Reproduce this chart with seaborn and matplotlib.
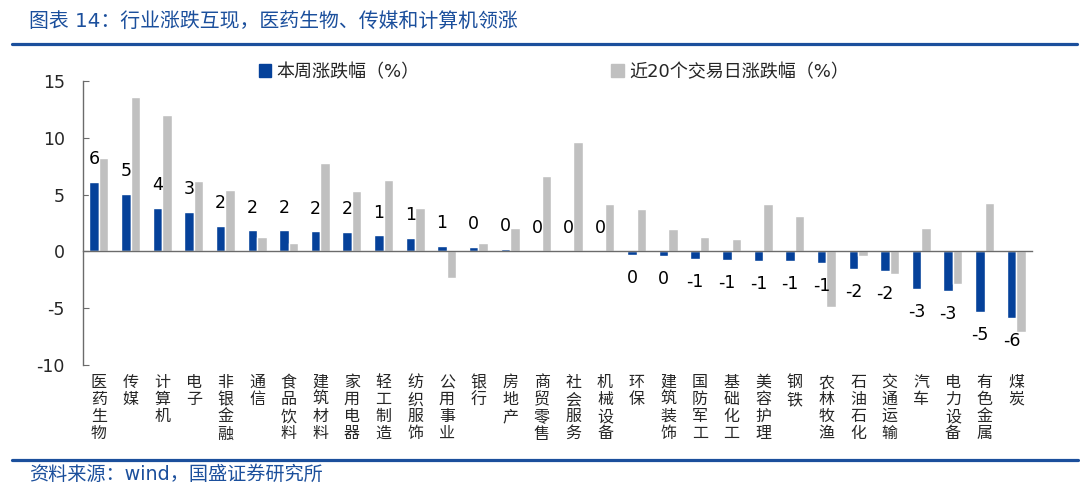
import matplotlib
matplotlib.use("Agg")
import matplotlib.pyplot as plt
import pandas as pd
import seaborn as sns
from matplotlib.lines import Line2D

industries = ["医药生物", "传媒", "计算机", "电子", "非银金融", "通信", "食品饮料", "建筑材料",
              "家用电器", "轻工制造", "纺织服饰", "公用事业", "银行", "房地产", "商贸零售",
              "社会服务", "机械设备", "环保", "建筑装饰", "国防军工", "基础化工", "美容护理",
              "钢铁", "农林牧渔", "石油石化", "交通运输", "汽车", "电力设备", "有色金属", "煤炭"]
weekly = [6.10, 5.08, 3.85, 3.44, 2.23, 1.85, 1.85, 1.76, 1.74, 1.41, 1.21, 0.52, 0.41, 0.24,
          0.05, 0.02, 0.01, -0.33, -0.40, -0.66, -0.80, -0.85, -0.88, -1.06, -1.53, -1.70,
          -3.32, -3.46, -5.31, -5.84]
last20 = [8.20, 13.60, 12.00, 6.17, 5.43, 1.23, 0.70, 7.75, 5.29, 6.28, 3.85, -2.30, 0.77, 2.05,
          6.65, 9.60, 4.20, 3.70, 1.98, 1.27, 1.06, 4.20, 3.10, -4.85, -0.38, -2.00,
          2.09, -2.90, 4.26, -7.07]
series_names = ["本周涨跌幅（%）", "近20个交易日涨跌幅（%）"]

BLUE = "#05419A"
GRAY = "#C0C0C0"
LINE_BLUE = "#1B4F9C"

df = pd.DataFrame({
    "行业": industries * 2,
    "值": weekly + last20,
    "系列": [series_names[0]] * len(industries) + [series_names[1]] * len(industries),
})

sns.set_style("white")
plt.rcParams["font.family"] = ["DejaVu Sans", "Noto Sans CJK SC"]
plt.rcParams["axes.unicode_minus"] = False

fig = plt.figure(figsize=(10.8, 4.93), dpi=100)
ax = fig.add_axes([0.0769, 0.2596, 0.8787, 0.5761])

sns.barplot(data=df, x="行业", y="值", hue="系列", order=industries,
            hue_order=series_names, palette=[BLUE, GRAY], width=0.6, gap=0,
            saturation=1, ax=ax)

# data labels on the weekly bars, rounded to integers
ax.bar_label(ax.containers[0], labels=[str(round(v)) for v in weekly],
             padding=10, fontsize=12.5, color="black")

ax.set_xlim(-0.5, len(industries) - 0.5)
ax.set_ylim(-10, 15)
ax.set_yticks(range(-10, 16, 5))
ax.set_xlabel("")
ax.set_ylabel("")

ax.spines["top"].set_visible(False)
ax.spines["right"].set_visible(False)
ax.spines["bottom"].set_position(("data", 0))
for s in ["left", "bottom"]:
    ax.spines[s].set_color("#6b6b6b")
    ax.spines[s].set_linewidth(1.0)

ax.set_xticks(range(len(industries)))
ax.set_xticklabels(["\n".join(n) for n in industries], fontsize=11.5,
                   va="top", linespacing=1.17)
ax.set_xticks([i - 0.5 for i in range(len(industries) + 1)], minor=True)
ax.tick_params(axis="x", which="major", length=0, pad=89)
ax.tick_params(axis="x", which="minor", direction="in", length=4, color="#6b6b6b", width=1)
ax.tick_params(axis="y", direction="in", length=4, color="#6b6b6b", labelsize=12.5, pad=13, left=True)

# legend across the top
ax.get_legend().remove()
handles = [plt.Rectangle((0, 0), 1, 1, color=BLUE), plt.Rectangle((0, 0), 1, 1, color=GRAY)]
fig.legend(handles, series_names, loc="center", bbox_to_anchor=(0.513, 1 - 72 / 493),
           ncol=2, frameon=False, fontsize=13, handlelength=0.7, handleheight=0.7,
           handletextpad=0.3, columnspacing=10.6)

# title, rules and source
fig.text(0.027, 1 - 21 / 493, "图表 14：行业涨跌互现，医药生物、传媒和计算机领涨",
         color=LINE_BLUE, fontsize=14.3, va="center", ha="left")
fig.add_artist(Line2D([0.011, 0.997], [1 - 43.5 / 493] * 2, color=LINE_BLUE, lw=2.3))
fig.add_artist(Line2D([0.011, 0.998], [1 - 460 / 493] * 2, color=LINE_BLUE, lw=2.3))
fig.text(0.027, 1 - 474 / 493, "资料来源：wind，国盛证券研究所",
         color=LINE_BLUE, fontsize=13.8, va="center", ha="left")

fig.savefig("out.png", dpi=100)
